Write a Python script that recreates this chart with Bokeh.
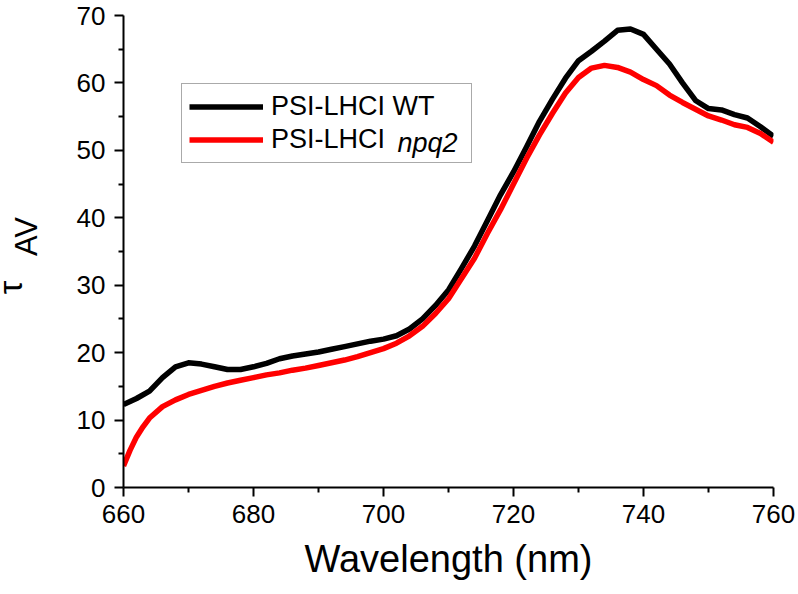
import math
from bokeh.plotting import figure
from bokeh.models import Range1d, Legend, LegendItem, Label, FixedTicker
from bokeh.embed import file_html
from bokeh.resources import INLINE

# ---- data ----
wavelength_wt = [660, 662, 664, 666, 668, 670, 672, 674, 676, 678, 680, 682, 684, 686, 688,
                 690, 692, 694, 696, 698, 700, 702, 704, 706, 708, 710, 712, 714, 716, 718,
                 720, 722, 724, 726, 728, 730, 732, 734, 736, 738, 740, 742, 744, 746, 748,
                 750, 752, 754, 756, 758, 760]
tau_wt = [12.3, 13.2, 14.3, 16.3, 17.9, 18.5, 18.3, 17.9, 17.5, 17.5, 17.9, 18.4, 19.1, 19.5, 19.8,
          20.1, 20.5, 20.9, 21.3, 21.7, 22.0, 22.5, 23.5, 25.0, 27.0, 29.3, 32.5, 35.8, 39.6, 43.4,
          46.8, 50.5, 54.3, 57.6, 60.7, 63.3, 64.7, 66.2, 67.8, 68.0, 67.2, 65.0, 62.8, 60.0, 57.4,
          56.2, 56.0, 55.3, 54.8, 53.5, 52.1]

wavelength_npq2 = [660, 661, 662, 663, 664, 666, 668, 670, 672, 674, 676, 678, 680, 682, 684,
                   686, 688, 690, 692, 694, 696, 698, 700, 702, 704, 706, 708, 710, 712, 714,
                   716, 718, 720, 722, 724, 726, 728, 730, 732, 734, 736, 738, 740, 742, 744,
                   746, 748, 750, 752, 754, 756, 758, 760]
tau_npq2 = [3.2, 5.5, 7.5, 9.0, 10.3, 12.0, 13.0, 13.8, 14.4, 15.0, 15.5, 15.9, 16.3, 16.7, 17.0,
            17.4, 17.7, 18.1, 18.5, 18.9, 19.4, 20.0, 20.6, 21.4, 22.5, 23.9, 25.8, 28.0, 31.0, 34.0,
            37.7, 41.2, 45.0, 48.8, 52.3, 55.5, 58.5, 60.8, 62.2, 62.6, 62.3, 61.6, 60.5, 59.6, 58.2,
            57.1, 56.1, 55.1, 54.5, 53.8, 53.4, 52.5, 51.2]

x_ticks = [660, 680, 700, 720, 740, 760]
x_minor = [670, 690, 710, 730, 750]
y_ticks = [0, 10, 20, 30, 40, 50, 60, 70]
y_minor = [5, 15, 25, 35, 45, 55, 65]

series_labels = ["PSI-LHCI WT", "PSI-LHCI"]
italic_suffix = "npq2"
x_title = "Wavelength (nm)"
y_symbol = "τ"
y_subscript = "AV"

FONT = "Liberation Sans"

p = figure(width=798, height=594, output_backend="svg", toolbar_location=None,
           x_range=Range1d(660, 760), y_range=Range1d(0, 70),
           min_border_left=120, min_border_right=25, min_border_top=15, min_border_bottom=107)
p.outline_line_color = None
p.grid.visible = False
p.background_fill_color = "white"

p.xaxis.ticker = FixedTicker(ticks=x_ticks, minor_ticks=x_minor)
p.yaxis.ticker = FixedTicker(ticks=y_ticks, minor_ticks=y_minor)

for ax in (p.xaxis[0], p.yaxis[0]):
    ax.axis_line_color = "black"
    ax.axis_line_width = 2
    ax.major_tick_line_color = "black"
    ax.minor_tick_line_color = "black"
    ax.major_tick_line_width = 2
    ax.minor_tick_line_width = 2
    ax.major_tick_in = 0
    ax.major_tick_out = 9
    ax.minor_tick_in = 0
    ax.minor_tick_out = 5
    ax.major_label_text_font = FONT
    ax.major_label_text_font_size = "26px"
    ax.major_label_text_color = "black"
    ax.major_label_standoff = 8
p.yaxis.major_label_standoff = 9

p.xaxis.axis_label = x_title
p.xaxis.axis_label_text_font = FONT
p.xaxis.axis_label_text_font_size = "38px"
p.xaxis.axis_label_text_font_style = "normal"
p.xaxis.axis_label_text_color = "black"
p.xaxis.axis_label_standoff = 12

# y-axis title: tau with subscript AV, as labels in the left side panel
p.add_layout(Label(x=-26, y=200, x_units="screen", y_units="screen", text=y_symbol,
                   angle=math.pi / 2, text_font=FONT, text_font_size="34px",
                   text_baseline="alphabetic", text_align="center", text_color="black"), "left")
p.add_layout(Label(x=26, y=251, x_units="screen", y_units="screen", text=y_subscript,
                   angle=math.pi / 2, text_font=FONT, text_font_size="31px",
                   text_baseline="alphabetic", text_align="center", text_color="black"), "left")

r1 = p.line(wavelength_wt, tau_wt, line_color="black", line_width=5.5, line_join="round")
r2 = p.line(wavelength_npq2, tau_npq2, line_color="#ff0000", line_width=5.5, line_join="round")

legend = Legend(items=[LegendItem(label=series_labels[0], renderers=[r1]),
                       LegendItem(label=series_labels[1], renderers=[r2])],
                location=(58, 324), padding=7, spacing=2, margin=0,
                glyph_width=74, glyph_height=29, label_standoff=8, label_width=193,
                label_height=27, label_text_line_height=1.0,
                label_text_font=FONT, label_text_font_size="27px", label_text_color="black",
                border_line_color="#555555", border_line_width=1.5,
                background_fill_alpha=0)
p.add_layout(legend, "center")

p.add_layout(Label(x=274, y=345, x_units="screen", y_units="screen", text=italic_suffix,
                   text_font=FONT, text_font_size="27px", text_font_style="italic",
                   text_baseline="alphabetic", text_align="left", text_color="black",
                   level="overlay"))

open("out.html", "w").write(file_html(p, INLINE))
